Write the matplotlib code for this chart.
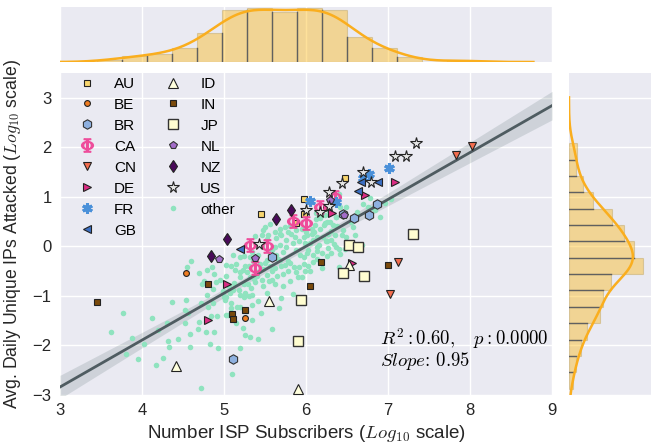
import numpy as np
import matplotlib
matplotlib.use("Agg")
import matplotlib.pyplot as plt

plt.rcParams['font.family'] = ['Liberation Sans', 'DejaVu Sans']
plt.rcParams['mathtext.fontset'] = 'cm'

# ---------------- data (log10 subscribers, log10 attacked IPs) ----------------
AU_X = [5.45, 6.47, 5.98, 5.98, 5.88]
AU_Y = [0.65, 1.39, 0.96, 0.65, 0.48]
BE_X = [4.54, 5.26, 6.24]
BE_Y = [-0.53, -1.44, 0.79]
BR_X = [5.11, 6.45, 6.59, 6.77, 6.86, 5.59]
BR_Y = [-2.27, 0.66, 0.57, 0.63, 0.86, -0.22]
CA_X = [5.84, 6.00, 6.17, 6.35, 5.32, 5.52, 5.38]
CA_Y = [0.52, 0.48, 0.80, 1.00, 0.02, 0.01, -0.44]
CN_X = [7.83, 8.03, 7.12, 7.02]
CN_Y = [1.85, 2.03, -0.31, -0.97]
DE_X = [7.08, 6.72, 6.32, 5.04, 6.56, 4.80]
DE_Y = [1.29, 1.04, 0.67, -0.75, -0.34, -1.49]
FR_X = [7.01, 6.77, 6.05, 6.36, 6.70]
FR_Y = [1.58, 1.47, 0.92, 0.89, 1.38]
GB_X = [6.64, 6.67, 6.88, 5.20]
GB_Y = [1.12, 1.30, 1.29, -0.06]
ID_X = [5.55, 4.42, 5.90, 6.53]
ID_Y = [-1.10, -2.41, -2.87, -0.38]
IN_X = [3.45, 4.81, 6.18, 6.05, 5.10, 5.11, 5.26, 7.00]
IN_Y = [-1.13, -0.75, -0.31, -0.80, -1.36, -1.47, -1.29, -0.37]
JP_X = [7.31, 6.53, 6.63, 6.45, 6.71, 5.94, 5.90]
JP_Y = [0.25, 0.03, -0.01, -0.53, -0.60, -1.09, -1.91]
NL_X = [4.94, 6.29, 6.46, 5.38]
NL_Y = [-0.25, 0.94, 0.64, -0.24]
NZ_X = [5.82, 5.63, 5.04, 4.84]
NZ_Y = [0.74, 0.55, 0.15, -0.19]
US_X = [7.34, 7.08, 7.22, 6.69, 6.79, 6.44, 6.28, 6.00, 6.17, 6.28, 5.43]
US_Y = [2.08, 1.83, 1.83, 1.50, 1.29, 1.28, 1.10, 0.74, 0.69, 0.82, 0.04]

OTHER_X = [
    4.55, 4.70, 4.79, 4.85, 5.03, 4.75, 4.73, 4.87, 4.79, 4.99,
    5.03, 4.37, 4.54, 4.87, 3.77, 4.52, 4.56, 4.80, 4.91, 5.05,
    4.52, 4.69, 3.62, 4.30, 4.58, 4.68, 4.88, 3.88, 4.20, 4.32,
    4.44, 4.02, 4.33, 4.58, 4.83, 3.80, 3.95, 4.17, 4.72,
    5.10,
    5.11, 5.19, 5.15, 5.13, 5.23, 5.19, 5.28, 5.32, 5.29, 5.38,
    5.46, 5.52, 5.58, 5.62, 5.72, 5.78, 5.88, 5.99, 5.74, 5.68,
    5.81, 5.62, 5.68, 5.76, 5.93, 5.97, 6.09, 6.09, 6.13, 6.19,
    6.27, 6.31, 6.37, 5.07, 4.88, 4.95, 5.01, 5.11, 5.19, 5.34,
    5.34, 5.19, 5.09, 5.27, 5.34, 5.23, 5.25, 5.32, 5.42, 5.59,
    5.67, 5.84, 5.19, 6.47, 6.40,
    5.95, 6.01, 6.11, 6.17, 6.23, 6.23, 6.29, 6.37, 6.33, 6.27,
    6.21, 6.13, 6.07, 5.99, 6.05, 6.01, 6.19, 6.49, 6.57, 6.68,
    6.90, 6.96, 6.82, 6.78, 7.04, 6.84, 6.76,
    6.49, 6.12, 6.07, 6.17, 6.35, 6.45, 5.86, 5.78, 5.70, 5.84,
    6.31, 5.56, 5.68, 5.54, 5.59, 5.64, 5.42, 5.68, 5.76, 5.88,
    5.46, 5.88, 5.32,
    4.12, 4.25, 4.60, 4.72, 4.90, 4.78, 4.93, 4.84, 5.02, 5.15,
    5.00, 5.08, 5.16, 5.24, 4.99, 5.06, 5.12, 5.18, 5.24, 5.26,
    5.02, 5.09, 5.20, 5.26, 5.24, 5.45, 5.30, 5.42, 5.52, 5.33,
    5.40, 5.48, 5.55, 5.36, 5.30, 5.35, 5.40, 5.44, 5.48, 5.52,
    5.56, 5.50, 5.34, 5.46, 5.56, 5.38, 5.48, 5.52, 5.70, 5.65,
    5.80, 5.62, 5.70, 5.78, 5.85, 5.66, 5.72, 5.64, 5.74, 5.82,
    5.95, 6.03, 6.14, 5.92, 6.02, 6.16, 5.98, 6.10, 6.26, 6.42,
    6.24, 6.40, 6.22, 6.30, 6.38, 6.44, 6.26, 6.28, 6.36, 6.42,
    6.20, 6.40, 6.32, 6.60, 6.62, 6.55, 6.70, 5.50, 5.62, 5.80,
    5.92, 6.00, 6.08, 6.14, 6.26, 6.34, 5.98, 6.05, 5.90, 5.58,
    5.72, 6.12,
]
OTHER_Y = [
    -0.42, -0.53, -0.48, -0.42, -0.38, -0.70, -0.75, -0.87, -0.98, -0.95,
    -1.02, -1.12, -1.09, -1.14, -1.35, -1.29, -1.35, -1.23, -1.40, -1.39,
    -1.54, -1.52, -1.73, -1.54, -1.76, -1.67, -1.73, -1.84, -1.69, -1.91,
    -1.87, -1.98, -2.03, -2.03, -1.98, -2.18, -2.27, -2.40, -2.86,
    -2.57,
    -0.18, -0.21, -0.36, -0.48, -0.48, -0.61, -0.51, -0.61, -0.75, -0.72,
    -0.67, -0.58, -0.67, -0.75, -0.55, -0.49, -0.51, -0.49, -0.38, -0.28,
    -0.34, -0.01, 0.03, -0.01, -0.18, -0.36, -0.31, -0.18, -0.01, -0.14,
    -0.04, -0.14, -0.01, -0.95, -0.56, -0.68, -1.09, -0.88, -0.98, -0.98,
    -1.19, -1.22, -1.25, -1.30, -1.49, -1.64, -1.79, -1.83, -1.86, -1.66,
    -1.25, -0.96, -2.06, -0.06, -0.41,
    0.36, 0.23, 0.43, 0.57, 0.63, 0.47, 0.50, 0.60, 0.43, 0.26,
    0.19, 0.19, 0.26, 0.06, 0.06, -0.14, -0.44, 0.19, 0.40, 0.03,
    0.59, 0.87, 0.77, 0.97, 0.95, 0.73, 0.80,
    0.80, 0.67, 0.36, 0.36, 0.23, 0.34, 0.19, 0.30, 0.23, 0.06,
    0.13, 0.46, 0.36, 0.23, -0.07, -0.18, -0.18, 0.26, 0.13, 0.33,
    0.23, -0.07, -0.21,
    -1.45, -2.25, -0.30, -1.15, -0.72, -1.72, -2.05, -1.40, -1.38, -1.55,
    -1.02, -1.15, -1.22, -1.03, -0.90, -0.80, -0.74, -0.88, -0.76, -0.94,
    -0.60, -0.40, -0.52, -0.40, -0.20, -1.35, -1.00, -1.10, -0.95, -0.84,
    -0.60, -0.80, -0.70, -0.66, -0.40, -0.30, -0.52, -0.36, -0.46, -0.28,
    -0.40, -0.34, -0.12, 0.00, -0.14, 0.20, 0.34, 0.14, -1.05, -0.60,
    -0.70, -0.44, -0.40, -0.30, -0.42, -0.26, -0.12, 0.16, 0.40, 0.24,
    -0.62, -0.40, -0.26, -0.42, -0.08, 0.02, 0.18, 0.30, -0.20, -0.16,
    0.10, -0.06, 0.44, 0.32, 0.42, 0.22, 0.50, 0.72, 0.60, 0.80,
    0.65, 1.05, 0.90, 0.22, 0.70, 0.50, 0.85, 0.40, 0.30, 0.42,
    0.10, 0.30, 0.12, -0.10, 0.10, 0.05, -0.22, -0.50, -0.62, -0.50,
    -0.80, 0.55,
]

# marginal histogram counts (15 bins between data min and max)
TOP_COUNTS = [2, 5, 7, 12, 26, 46, 48, 44, 48, 46, 22, 12, 4, 0, 2]
RIGHT_COUNTS = [3, 5, 9, 13, 23, 25, 31, 55, 48, 41, 32, 18, 10, 5, 6]  # bottom -> top

LABELS = ['AU', 'BE', 'BR', 'CA', 'CN', 'DE', 'FR', 'GB',
          'ID', 'IN', 'JP', 'NL', 'NZ', 'US', 'other']
GROUPS_X = [AU_X, BE_X, BR_X, CA_X, CN_X, DE_X, FR_X, GB_X,
            ID_X, IN_X, JP_X, NL_X, NZ_X, US_X, OTHER_X]
GROUPS_Y = [AU_Y, BE_Y, BR_Y, CA_Y, CN_Y, DE_Y, FR_Y, GB_Y,
            ID_Y, IN_Y, JP_Y, NL_Y, NZ_Y, US_Y, OTHER_Y]

# styles: marker, size, face, edge, edge width
STYLES = {
    'AU': ('s', 4.0, '#F7D56E', '#222222', 0.8),
    'BE': ('o', 4.2, '#F07D22', '#222222', 0.8),
    'BR': ('h', 6.8, '#8EB0DF', '#333333', 0.8),
    'CA': (r'$\Phi$', 9.5, '#EE4D9B', '#EE4D9B', 1.0),
    'CN': ('v', 6.3, '#F46D4E', '#222222', 0.8),
    'DE': ('>', 6.0, '#DB2C84', '#222222', 0.8),
    'FR': ((6, 2, 0), 7.5, '#4A90D9', '#4A90D9', 2.2),
    'GB': ('<', 6.0, '#3B6FC3', '#222222', 0.8),
    'ID': ('^', 7.0, '#FFFFDD', '#222222', 0.8),
    'IN': ('s', 4.0, '#7A4A0C', '#222222', 0.8),
    'JP': ('s', 7.3, '#FFFDD0', '#333333', 1.0),
    'NL': ('p', 5.6, '#A36DC9', '#333333', 0.8),
    'NZ': ('d', 6.0, '#4A0A5A', '#222222', 0.8),
    'US': ('*', 8.5, '#E6E6E6', '#222222', 0.8),
    'other': ('o', 4.0, '#8FE3BF', 'none', 0.0),
}

# ---------------- figure ----------------
W, H = 651, 443
fig = plt.figure(figsize=(W / 100, H / 100), dpi=100)
bg = '#EAEAF2'
ax = fig.add_axes([60 / W, 48 / H, 492 / W, 322 / H])
ax_top = fig.add_axes([60 / W, (H - 62) / H, 492 / W, 55 / H], sharex=ax)
ax_right = fig.add_axes([569 / W, 48 / H, 82 / W, 322 / H], sharey=ax)
for a in (ax, ax_top, ax_right):
    a.set_facecolor(bg)
    for s in a.spines.values():
        s.set_visible(False)
    a.set_axisbelow(True)
ax.grid(True, color='white', lw=1.0)
ax_top.xaxis.grid(True, color='white', lw=1.0)
ax_top.yaxis.grid(False)
ax_right.yaxis.grid(True, color='white', lw=1.0)
ax_right.xaxis.grid(False)

all_x = np.concatenate([np.asarray(g, float) for g in GROUPS_X])
all_y = np.concatenate([np.asarray(g, float) for g in GROUPS_Y])

# regression with 95% confidence band
slope, intercept = np.polyfit(all_x, all_y, 1)
xx = np.linspace(3, 9, 200)
yy = intercept + slope * xx
n = len(all_x)
xm = all_x.mean()
sxx = ((all_x - xm) ** 2).sum()
resid = all_y - (intercept + slope * all_x)
s_err = np.sqrt((resid ** 2).sum() / (n - 2))
hw = 1.968 * s_err * np.sqrt(1.0 / n + (xx - xm) ** 2 / sxx)
ax.fill_between(xx, yy - hw, yy + hw, color='#2F4F4F', alpha=0.15, lw=0, zorder=2)
ax.plot(xx, yy, color='#4F5C61', lw=2.0, zorder=2.6)

handles = []
for lab, gx, gy in zip(LABELS, GROUPS_X, GROUPS_Y):
    mk, ms, fc, ec, mew = STYLES[lab]
    z = 2.4 if lab == 'other' else 3
    h, = ax.plot(gx, gy, ls='none', marker=mk, ms=ms, mfc=fc, mec=ec,
                 mew=mew, label=lab, zorder=z)
    handles.append(h)

ax.set_xlim(3, 9)
ax.set_ylim(-3, 3.5)
ax.set_xticks(range(3, 10))
ax.set_yticks(range(-3, 4))
ax.tick_params(length=0, labelsize=12, pad=6, colors='#262626')
ax.set_xlabel(r'Number ISP Subscribers ($Log_{10}$ scale)', fontsize=13.5, color='#262626', labelpad=3)
ax.set_ylabel(r'Avg. Daily Unique IPs Attacked ($Log_{10}$ scale)', fontsize=12.7, color='#262626', labelpad=7)

leg = ax.legend(handles, LABELS, ncol=2, loc='upper left', bbox_to_anchor=(0.023, 0.988),
                frameon=False, fontsize=11, borderaxespad=0, borderpad=0,
                labelspacing=0.455, numpoints=1, columnspacing=1.4, handletextpad=0.8)

ax.text(6.9, -2.0, r'$R^2: 0.60,\ \ \ p: 0.0000$', fontsize=13.5, family='cmr10', va='baseline')
ax.text(6.9, -2.42, r'$Slope$: 0.95', fontsize=13.5, family='cmr10', va='baseline')

# ---------------- marginals ----------------
bar_c = '#FEB507'
kde_c = '#FAAE1E'


def kde_counts(edges, counts, grid):
    c = np.asarray(counts, float)
    centers = 0.5 * (edges[:-1] + edges[1:])
    N = c.sum()
    m = (c * centers).sum() / N
    sd = np.sqrt((c * (centers - m) ** 2).sum() / N)
    bw = 1.059 * sd * N ** (-0.2)
    dens = (c[:, None] * np.exp(-0.5 * ((grid[None, :] - centers[:, None]) / bw) ** 2)).sum(0)
    dens /= N * bw * np.sqrt(2 * np.pi)
    return dens * N * (edges[1] - edges[0]), bw


te = np.linspace(all_x.min(), all_x.max(), len(TOP_COUNTS) + 1)
ax_top.bar(te[:-1], TOP_COUNTS, width=np.diff(te), align='edge', color=bar_c,
           alpha=0.4, edgecolor='#B89A50', lw=0.8, zorder=2)
for i in range(1, len(TOP_COUNTS)):
    hgt = min(TOP_COUNTS[i - 1], TOP_COUNTS[i])
    if hgt > 0:
        ax_top.plot([te[i], te[i]], [0, hgt], color='#606060', lw=1.0, zorder=3)
_, bwx = kde_counts(te, TOP_COUNTS, te)
gx = np.linspace(te[0] - 3 * bwx, te[-1] + 3 * bwx, 300)
kx, _ = kde_counts(te, TOP_COUNTS, gx)
ax_top.plot(gx, kx, color=kde_c, lw=1.8, zorder=4)
ax_top.set_ylim(0, max(TOP_COUNTS) * 1.012)
ax_top.tick_params(labelbottom=False, labelleft=False, length=0)

ye = np.linspace(all_y.min(), all_y.max(), len(RIGHT_COUNTS) + 1)
ax_right.barh(ye[:-1], RIGHT_COUNTS, height=np.diff(ye), align='edge', color=bar_c,
              alpha=0.4, edgecolor='#B89A50', lw=0.8, zorder=2)
for i in range(1, len(RIGHT_COUNTS)):
    wid = min(RIGHT_COUNTS[i - 1], RIGHT_COUNTS[i])
    if wid > 0:
        ax_right.plot([0, wid], [ye[i], ye[i]], color='#606060', lw=1.0, zorder=3)
_, bwy = kde_counts(ye, RIGHT_COUNTS, ye)
gy = np.linspace(ye[0] - 3 * bwy, ye[-1] + 3 * bwy, 300)
ky, _ = kde_counts(ye, RIGHT_COUNTS, gy)
ax_right.plot(ky, gy, color=kde_c, lw=1.8, zorder=4)
ax_right.set_xlim(0, max(RIGHT_COUNTS) * 246 / 223)
ax_right.tick_params(labelbottom=False, labelleft=False, length=0)

fig.savefig('out.png', dpi=100, facecolor='white')
